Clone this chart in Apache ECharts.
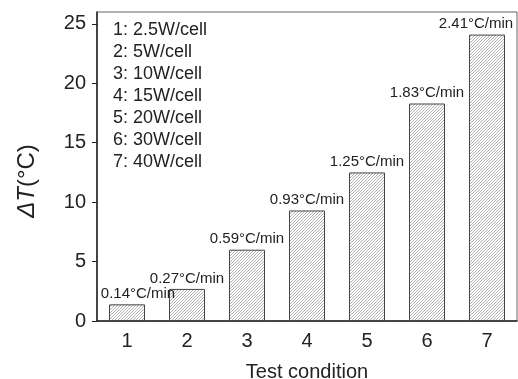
<!DOCTYPE html>
<html>
<head>
<meta charset="utf-8">
<script src="https://cdn.jsdelivr.net/npm/echarts@6/dist/echarts.min.js"></script>
<style>
    html, body { margin: 0; padding: 0; background: #fff; }
    #chart_box { width: 518px; height: 379px; }
</style>
</head>
<body>
<div id="chart_box"></div>
<script>
let categories = ['1', '2', '3', '4', '5', '6', '7'];
let deltaT = [1.4, 2.7, 6.0, 9.3, 12.5, 18.3, 24.1];
let rates = ['0.14', '0.27', '0.59', '0.93', '1.25', '1.83', '2.41'];
let powers = ['2.5W/cell', '5W/cell', '10W/cell', '15W/cell', '20W/cell', '30W/cell', '40W/cell'];

let font = 'Liberation Sans, Arial, sans-serif';

// fine diagonal hatch for the bars
function makeHatch() {
    let n = 3;
    let c = document.createElement('canvas');
    c.width = n;
    c.height = n;
    let ctx = c.getContext('2d');
    ctx.fillStyle = '#fff';
    ctx.fillRect(0, 0, n, n);
    ctx.strokeStyle = '#a8a8a8';
    ctx.lineWidth = 0.9;
    ctx.beginPath();
    ctx.moveTo(0, n); ctx.lineTo(n, 0);
    ctx.moveTo(-1, 1); ctx.lineTo(1, -1);
    ctx.moveTo(n - 1, n + 1); ctx.lineTo(n + 1, n - 1);
    ctx.stroke();
    return c;
}

let hatch = makeHatch();

let barData = deltaT.map(function (v, i) {
    let item = { value: v };
    if (i === 0) item.label = { offset: [11, 0] };
    if (i === deltaT.length - 1) item.label = { offset: [-11, 0] };
    return item;
});

let legendText = powers.map(function (p, i) {
    return (i + 1) + ': ' + p;
}).join('\n');

let myChart = echarts.init(document.getElementById('chart_box'));

let myOption = {
    animation: false,
    grid: {
        left: 97,
        right: 1,
        top: 12,
        bottom: 58,
        outerBoundsMode: 'none',
        show: true,
        borderColor: '#666',
        borderWidth: 1
    },
    xAxis: {
        type: 'category',
        data: categories,
        name: 'Test condition',
        nameLocation: 'middle',
        nameGap: 41,
        nameTextStyle: { fontFamily: font, fontSize: 20, color: '#222' },
        axisLine: { lineStyle: { color: '#222', width: 1.5 } },
        axisTick: { alignWithLabel: true, length: 5, lineStyle: { color: '#222' } },
        axisLabel: { fontFamily: font, fontSize: 20, color: '#222', margin: 10 }
    },
    yAxis: {
        type: 'value',
        min: 0,
        max: 26,
        interval: 5,
        splitLine: { show: false },
        axisLine: { show: true, lineStyle: { color: '#222', width: 1.5 } },
        axisTick: { show: true, length: 5, lineStyle: { color: '#222' } },
        axisLabel: { fontFamily: font, fontSize: 20, color: '#222', margin: 11, showMaxLabel: false }
    },
    graphic: [
        {
            type: 'text',
            left: 113,
            top: 19,
            style: {
                text: legendText,
                font: '18px ' + font,
                fill: '#222',
                lineHeight: 22
            }
        },
        {
            type: 'text',
            x: 27,
            y: 181,
            rotation: Math.PI / 2,
            style: {
                text: '{i|ΔT}{n|(°C)}',
                align: 'center',
                verticalAlign: 'middle',
                rich: {
                    i: { fontFamily: font, fontSize: 24, fontStyle: 'italic', fill: '#222' },
                    n: { fontFamily: font, fontSize: 24, fill: '#222' }
                }
            }
        }
    ],
    series: [{
        type: 'bar',
        data: barData,
        barWidth: 36,
        itemStyle: {
            color: { image: hatch, repeat: 'repeat' },
            borderColor: '#444',
            borderWidth: 1
        },
        label: {
            show: true,
            position: 'top',
            distance: 3,
            fontFamily: font,
            fontSize: 15,
            color: '#222',
            formatter: function (p) {
                return rates[p.dataIndex] + '°C/min';
            }
        }
    }]
};

myChart.setOption(myOption);
</script>
</body>
</html>
